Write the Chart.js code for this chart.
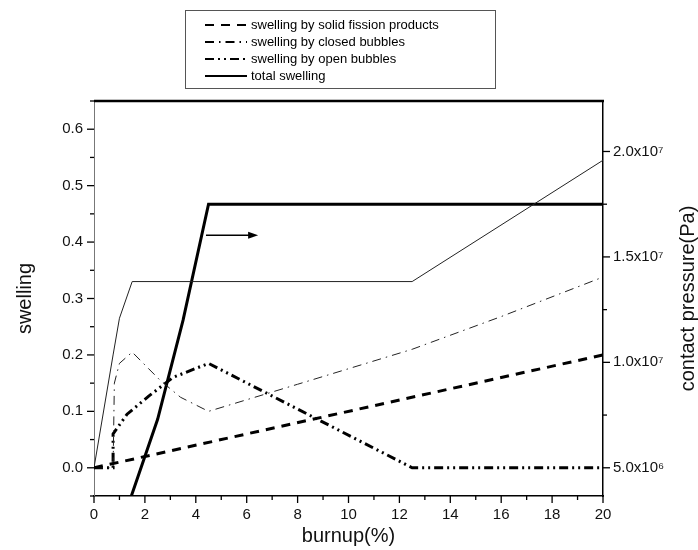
<!DOCTYPE html>
<html>
<head>
<meta charset="utf-8">
<script src="https://cdn.jsdelivr.net/npm/chart.js@4.4.0/dist/chart.umd.min.js"></script>
<style>
  html, body { margin: 0; padding: 0; background: #fff; }
  #wrap { width: 698px; height: 550px; }
</style>
</head>
<body>
<div id="wrap"><canvas id="chart" width="698" height="550"></canvas></div>
<script>
// --- swelling components vs burnup (%) ---
const solidFpBurnup = [0, 20];
const solidFpSwelling = [0, 0.2];

const closedBurnup = [0, 0.75, 0.8, 1.0, 1.5, 2.6, 3.4, 4.5, 8, 12.5, 16, 20];
const closedSwelling = [0, 0, 0.15, 0.185, 0.205, 0.155, 0.125, 0.1, 0.148, 0.21, 0.268, 0.338];

const openBurnup = [0, 0.75, 0.75, 1.3, 2.15, 3.1, 4.5, 12.5, 20];
const openSwelling = [0, 0, 0.06, 0.095, 0.127, 0.16, 0.185, 0, 0];

const totalBurnup = [0, 0.75, 1.0, 1.5, 12.5, 20];
const totalSwelling = [0, 0.2, 0.265, 0.33, 0.33, 0.545];

// contact pressure (Pa), right axis
const pressureBurnup = [1.45, 2.5, 3.5, 4.5, 20];
const pressurePa = [3.6e6, 7.3e6, 1.2e7, 1.75e7, 1.75e7];

// tick positions (labelled ones are the majors)
const burnupTicks = [0, 1, 2, 3, 4, 5, 6, 7, 8, 9, 10, 11, 12, 13, 14, 15, 16, 17, 18, 19, 20];
const burnupLabels = ['0', '', '2', '', '4', '', '6', '', '8', '', '10', '', '12', '', '14', '', '16', '', '18', '', '20'];
const swellTicks = [-0.05, 0, 0.05, 0.1, 0.15, 0.2, 0.25, 0.3, 0.35, 0.4, 0.45, 0.5, 0.55, 0.6, 0.65];
const swellLabels = ['', '0.0', '', '0.1', '', '0.2', '', '0.3', '', '0.4', '', '0.5', '', '0.6', ''];
const paTicks = [5e6, 7.5e6, 1e7, 1.25e7, 1.5e7, 1.75e7, 2e7];
const paLabels = ['5.0x10\u2076', '', '1.0x10\u2077', '', '1.5x10\u2077', '', '2.0x10\u2077'];

// arrow pointing at the pressure axis: [x0, x1, y] in burnup / swelling units
const arrowSpan = [4.4, 6.45, 0.412];

const seriesLabels = [
    'swelling by solid fission products',
    'swelling by closed bubbles',
    'swelling by open bubbles',
    'total swelling'
];

// right axis is tied to the left one: 5.0x10^6 Pa sits at swelling 0
const swellMin = -0.05, swellMax = 0.65;
const paAtZero = 5e6, paPerUnit = 2.676e7;
const paMin = paAtZero + swellMin * paPerUnit;
const paMax = paAtZero + swellMax * paPerUnit;

const FONT = '"Liberation Sans", Arial, Helvetica, sans-serif';

function pts(xs, ys) {
    return xs.map((x, i) => ({ x: x, y: ys[i] }));
}

function fixedTicks(values) {
    return scale => { scale.ticks = values.map(v => ({ value: v })); };
}

function labelFrom(values, labels) {
    return v => {
        const i = values.findIndex(t => Math.abs(t - v) < Math.abs(v) * 1e-9 + 1e-9);
        return i < 0 ? '' : labels[i];
    };
}

// ticks, top frame, arrow, axis titles and the boxed legend
const decorations = {
    id: 'decorations',
    afterDraw(chart) {
        const { ctx, chartArea: a, scales } = chart;
        const x = scales.x, y = scales.y, y1 = scales.y1;
        ctx.save();
        ctx.strokeStyle = '#000';
        ctx.lineWidth = 1.3;

        const seg = (x0, y0, x1, yy1) => {
            ctx.beginPath();
            ctx.moveTo(x0, y0);
            ctx.lineTo(x1, yy1);
            ctx.stroke();
        };

        burnupTicks.forEach((v, i) => {
            const px = x.getPixelForValue(v);
            seg(px, a.bottom, px, a.bottom + (burnupLabels[i] ? 7 : 4));
        });
        swellTicks.forEach((v, i) => {
            const py = y.getPixelForValue(v);
            seg(a.left, py, a.left - (swellLabels[i] ? 7 : 4), py);
        });
        paTicks.forEach((v, i) => {
            const py = y1.getPixelForValue(v);
            seg(a.right, py, a.right + (paLabels[i] ? 7 : 4), py);
        });

        // heavy top edge of the frame
        ctx.lineWidth = 2.5;
        seg(a.left, a.top, a.right + 1, a.top);

        // arrow
        const ax0 = x.getPixelForValue(arrowSpan[0]);
        const ax1 = x.getPixelForValue(arrowSpan[1]);
        const ay = y.getPixelForValue(arrowSpan[2]);
        ctx.lineWidth = 1.5;
        seg(ax0, ay, ax1 - 6, ay);
        ctx.fillStyle = '#000';
        ctx.beginPath();
        ctx.moveTo(ax1, ay);
        ctx.lineTo(ax1 - 10, ay - 3.5);
        ctx.lineTo(ax1 - 10, ay + 3.5);
        ctx.closePath();
        ctx.fill();

        // axis titles
        ctx.fillStyle = '#111';
        ctx.font = '20px ' + FONT;
        ctx.textAlign = 'center';
        ctx.textBaseline = 'middle';
        ctx.fillText('burnup(%)', (a.left + a.right) / 2, 536);
        ctx.save();
        ctx.translate(25, (a.top + a.bottom) / 2);
        ctx.rotate(-Math.PI / 2);
        ctx.fillText('swelling', 0, 0);
        ctx.restore();
        ctx.save();
        ctx.translate(688, (a.top + a.bottom) / 2);
        ctx.rotate(-Math.PI / 2);
        ctx.fillText('contact pressure(Pa)', 0, 0);
        ctx.restore();

        // legend box
        ctx.lineWidth = 1;
        ctx.strokeStyle = '#555';
        ctx.strokeRect(185.5, 10.5, 310, 78);
        ctx.font = '13px ' + FONT;
        ctx.textAlign = 'left';
        ctx.fillStyle = '#000';
        ctx.strokeStyle = '#000';
        for (let i = 0; i < 4; i++) {
            const ds = chart.data.datasets[i];
            const ly = 25 + i * 17;
            ctx.lineWidth = 2;
            ctx.setLineDash(ds.borderDash || []);
            seg(205, ly, 247, ly);
            ctx.setLineDash([]);
            ctx.fillText(ds.label, 251, ly);
        }
        ctx.restore();
    }
};

const tickFont = { family: FONT, size: 15 };
const hiddenTicks = { drawOnChartArea: false, tickLength: 7, tickColor: 'rgba(0,0,0,0)' };

new Chart(document.getElementById('chart'), {
    type: 'line',
    data: {
        datasets: [
            {
                label: seriesLabels[0],
                data: pts(solidFpBurnup, solidFpSwelling),
                borderColor: '#000',
                borderWidth: 3,
                borderDash: [9, 7],
                yAxisID: 'y'
            },
            {
                label: seriesLabels[1],
                data: pts(closedBurnup, closedSwelling),
                borderColor: '#222',
                borderWidth: 1,
                borderDash: [9, 5, 1.5, 5],
                yAxisID: 'y'
            },
            {
                label: seriesLabels[2],
                data: pts(openBurnup, openSwelling),
                borderColor: '#000',
                borderWidth: 3,
                borderDash: [9, 4, 2, 4, 2, 4],
                yAxisID: 'y'
            },
            {
                label: seriesLabels[3],
                data: pts(totalBurnup, totalSwelling),
                borderColor: '#222',
                borderWidth: 1,
                yAxisID: 'y'
            },
            {
                label: 'contact pressure',
                data: pts(pressureBurnup, pressurePa),
                borderColor: '#000',
                borderWidth: 3,
                yAxisID: 'y1'
            }
        ]
    },
    options: {
        responsive: false,
        animation: false,
        layout: { padding: { top: 101, left: 0, right: 0, bottom: 0 } },
        elements: { point: { radius: 0 }, line: { tension: 0, fill: false } },
        plugins: { legend: { display: false }, tooltip: { enabled: false } },
        scales: {
            x: {
                type: 'linear',
                min: 0,
                max: 20,
                grid: hiddenTicks,
                border: { color: '#000', width: 1.5 },
                afterBuildTicks: fixedTicks(burnupTicks),
                ticks: {
                    autoSkip: false,
                    maxRotation: 0,
                    padding: 3,
                    color: '#111',
                    font: tickFont,
                    callback: labelFrom(burnupTicks, burnupLabels)
                },
                afterFit(s) { s.height = 54; }
            },
            y: {
                position: 'left',
                min: swellMin,
                max: swellMax,
                grid: hiddenTicks,
                border: { color: '#777', width: 1 },
                afterBuildTicks: fixedTicks(swellTicks),
                ticks: {
                    autoSkip: false,
                    padding: 4,
                    color: '#111',
                    font: tickFont,
                    callback: labelFrom(swellTicks, swellLabels)
                },
                afterFit(s) { s.width = 94; }
            },
            y1: {
                position: 'right',
                min: paMin,
                max: paMax,
                grid: hiddenTicks,
                border: { color: '#000', width: 1.5 },
                afterBuildTicks: fixedTicks(paTicks),
                ticks: {
                    autoSkip: false,
                    padding: 3,
                    color: '#111',
                    font: tickFont,
                    callback: labelFrom(paTicks, paLabels)
                },
                afterFit(s) { s.width = 95; }
            }
        }
    },
    plugins: [decorations]
});
</script>
</body>
</html>
